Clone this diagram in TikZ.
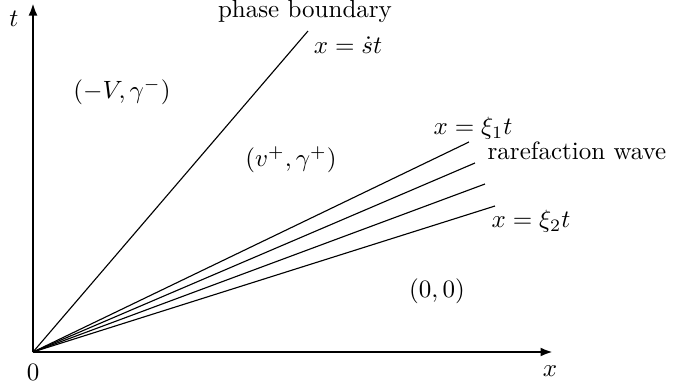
\documentclass[tikz,border=0pt]{standalone}
\usetikzlibrary{arrows.meta}
\begin{document}
\begin{tikzpicture}[x=0.4pt,y=-0.4pt,
  axis/.style={line width=1.1pt,-{Latex[length=5pt,width=3.6pt]}},
  ray/.style={line width=0.45pt},
  lbl/.style={inner sep=0pt}]
\useasboundingbox (0,0) rectangle (682,387);
\coordinate (O) at (33,352);
\coordinate (xend) at (553,352);
\coordinate (tend) at (33,3);
\draw[axis] (O) -- (xend);
\draw[axis] (O) -- (tend);
\coordinate (pb) at (308,31);
\coordinate (r1) at (469,142);
\coordinate (r2) at (475,163);
\coordinate (r3) at (485,184);
\coordinate (r4) at (495,206);
\draw[ray] (O) -- (pb);
\draw[ray] (O) -- (r1);
\draw[ray] (O) -- (r2);
\draw[ray] (O) -- (r3);
\draw[ray] (O) -- (r4);
\node[lbl] (tl) at (14,19) {$t$};
\node[lbl] (xl) at (550,371) {$x$};
\node[lbl] (zl) at (33,372) {$0$};
\node[lbl] (pbl) at (305,11.5) {phase boundary};
\node[lbl] (st) at (348,45) {$x=\dot st$};
\node[lbl] (ml) at (122,92) {$(-V,\gamma^-)$};
\node[lbl] (pl) at (291,160) {$(v^+,\gamma^+)$};
\node[lbl] (x1) at (473,128) {$x=\xi_1t$};
\node[lbl] (rw) at (577,151) {rarefaction wave};
\node[lbl] (x2) at (531,221) {$x=\xi_2t$};
\node[lbl] (zz) at (437,291) {$(0,0)$};
\end{tikzpicture}
\end{document}
